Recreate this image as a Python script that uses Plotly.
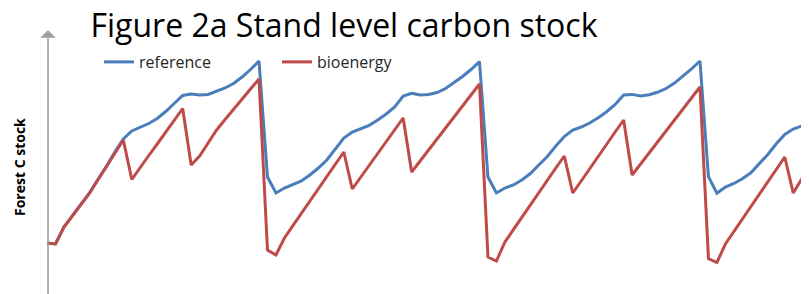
import plotly.graph_objects as go

# time step index (simulation periods)
periods = list(range(0, 91))

reference = [
    57, 56, 73, 84, 95, 107, 120.5, 133.5, 148, 161,
    169, 173, 176.5, 181.5, 188.5, 196.5, 204.5, 206, 205, 205.5,
    208.5, 212, 216.5, 223, 230.5, 239,
    123, 107, 112, 115.2, 119, 125, 132, 140, 150.5, 162,
    168, 171.5, 174.7, 180, 186, 193, 204, 206.7, 205, 205.5,
    207.5, 211.5, 217.2, 223.5, 230.5, 238.3,
    123, 107, 112, 115, 120, 126.5, 135, 143.5, 154, 163.5,
    170, 173, 177, 182.2, 188.3, 195.5, 205, 205.6, 204, 205.3,
    207.7, 211.5, 216.9, 223.7, 231, 239,
    123.3, 106.7, 113, 116.5, 121.3, 127.2, 136, 145.6, 156.2, 165.5,
    171, 174, 175.5,
]

bioenergy = [
    57, 56, 73, 84, 95, 106.5, 120, 133, 147, 160,
    120.5, 133, 144.5, 156, 168, 180, 191.5, 135, 144, 157,
    170, 180.5, 191, 201, 211, 221,
    50, 45, 62, 74.3, 86.6, 99, 111.2, 123.5, 135.8, 148,
    111, 123, 135, 146.5, 158.5, 170, 182, 128, 139, 150,
    161, 172, 183, 194, 205, 216,
    43, 39, 58, 70.5, 83, 95, 107.5, 119.5, 132, 144,
    107, 119, 131.5, 143.5, 156, 168, 180, 125, 136, 147,
    158, 169, 180, 191, 202, 213,
    41.5, 37.5, 56, 68.4, 81, 93.1, 105.6, 118, 130.4, 143,
    107, 121, 133,
]

series_names = ["reference", "bioenergy"]
title_text = "Figure 2a Stand level carbon stock"
y_title = "Forest C stock"

BLUE = "#4A7EBB"
RED = "#BE4B48"
AXIS_GRAY = "#A0A0A0"

# page has an 8px body margin, so the figure is drawn 8px in from the window edge
W, H = 801, 286
ML, MR, MT, MB = 39, 0, 22, 0
PW, PH = W - ML - MR, H - MT - MB

fig = go.Figure()
fig.add_trace(go.Scatter(x=periods, y=reference, mode="lines", name=series_names[0],
                         line=dict(color=BLUE, width=3)))
fig.add_trace(go.Scatter(x=periods, y=bioenergy, mode="lines", name=series_names[1],
                         line=dict(color=RED, width=3)))

X_MAX = PW / 8.48
Y_MIN, Y_MAX = 6, 270

# vertical axis with arrow head
fig.add_annotation(x=0.12, y=Y_MAX, xref="x", yref="y", ax=0.12, ay=-20,
                   axref="x", ayref="y", text="", showarrow=True,
                   arrowhead=1, arrowsize=1.6, arrowwidth=1.6, arrowcolor=AXIS_GRAY,
                   standoff=0)

# y axis title
fig.add_annotation(x=(11 - ML) / PW, y=(PH - (159 - MT)) / PH, xref="paper", yref="paper",
                   text="<b>" + y_title + "</b>", textangle=-90, showarrow=False,
                   font=dict(family="Open Sans", size=14, color="#000000"),
                   xanchor="center", yanchor="middle")

fig.update_layout(
    width=W, height=H,
    margin=dict(l=ML, r=MR, t=MT, b=MB),
    paper_bgcolor="white", plot_bgcolor="white",
    title=dict(text=title_text, x=336 / W, y=1 - 18 / H, xref="container", yref="container",
               xanchor="center", yanchor="middle",
               font=dict(family="Open Sans", size=32, color="#000000")),
    xaxis=dict(range=[0, X_MAX], visible=False),
    yaxis=dict(range=[Y_MIN, Y_MAX], visible=False),
    showlegend=True,
    legend=dict(orientation="h", x=(91 - ML) / PW, y=(PH - (54 - MT)) / PH,
                xanchor="left", yanchor="middle", bgcolor="rgba(0,0,0,0)",
                font=dict(family="Open Sans", size=16, color="#262626"),
                entrywidth=133, entrywidthmode="pixels", itemwidth=30),
)

fig.write_html("out.html")
